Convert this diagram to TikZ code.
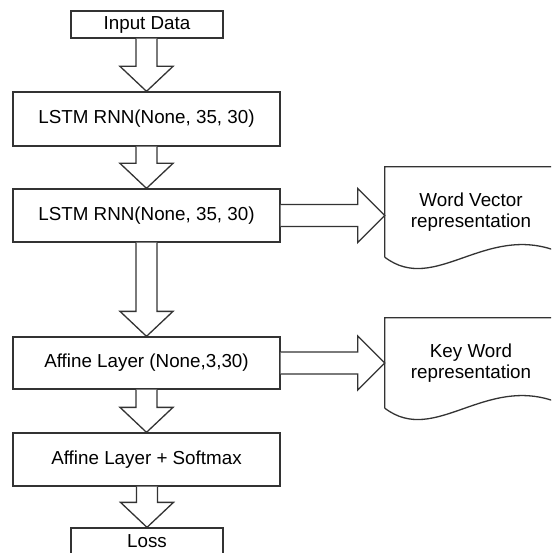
\documentclass[tikz,border=0pt]{standalone}
\usepackage{fontspec}
\setmainfont{Liberation Sans}
\usetikzlibrary{calc}
\definecolor{ln}{HTML}{333333}
\begin{document}
\begin{tikzpicture}[x=1pt,y=-1pt,
  every node/.style={font=\fontsize{18.8}{21}\selectfont, text=black},
  box/.style={draw=ln, line width=1.3pt, fill=white, inner sep=0pt, minimum width=267pt, minimum height=53pt, anchor=center},
  smallbox/.style={box, minimum width=152pt, minimum height=27pt},
  docnode/.style={inner sep=0pt, minimum width=172pt, minimum height=90pt, align=center},
  fat/.style={draw=ln, line width=1.3pt, fill=white, line join=miter}
]
\useasboundingbox (0,0) rectangle (551,553);
\clip (0,0) rectangle (551,553);
\fill[white] (0,0) rectangle (551,553);

\node[smallbox] (in) at (147,24.5) {Input Data};
\node[box, minimum height=54pt] (l1) at (146.5,119) {LSTM RNN(None, 35, 30)};
\node[box] (l2) at (146.5,215.5) {LSTM RNN(None, 35, 30)};
\node[box, minimum height=52pt] (af) at (146.5,363) {Affine Layer (None,3,30)};
\node[box] (sm) at (146.5,459.5) {Affine Layer + Softmax};
\node[smallbox] (loss) at (147,541.5) {Loss};

\node[docnode] (d1) at (471,212) {Word Vector\\representation};
\node[docnode] (d2) at (471,363) {Key Word\\representation};

% document shapes
\foreach \d in {d1,d2}{
  \draw[ln, line width=1.3pt] (\d.south west) -- (\d.north west) -- (\d.north east) -- ($(\d.south east)+(0,-6)$)
    .. controls ($(\d.south west)+(100,-34)$) and ($(\d.south west)+(50,38)$) .. (\d.south west);
}

% vertical fat arrows
\foreach \a/\b in {in/l1, l1/l2, l2/af, af/sm, sm/loss}{
  \draw[fat] ($(\b.north |- \a.south)+(-10.5,0)$) -- ($(\b.north)+(-10.5,-25)$) -- ($(\b.north)+(-26.5,-25)$)
    -- (\b.north) -- ($(\b.north)+(26.5,-25)$) -- ($(\b.north)+(10.5,-25)$) -- ($(\b.north |- \a.south)+(10.5,0)$);
}

% horizontal fat arrows
\foreach \a/\b in {l2/d1, af/d2}{
  \coordinate (tip) at (\b.west |- \a.east);
  \draw[fat] ($(\a.east)+(0,-11)$) -- ($(tip)+(-27,-11)$) -- ($(tip)+(-27,-27)$) -- (tip)
    -- ($(tip)+(-27,27)$) -- ($(tip)+(-27,11)$) -- ($(\a.east)+(0,11)$);
}
\end{tikzpicture}
\end{document}
